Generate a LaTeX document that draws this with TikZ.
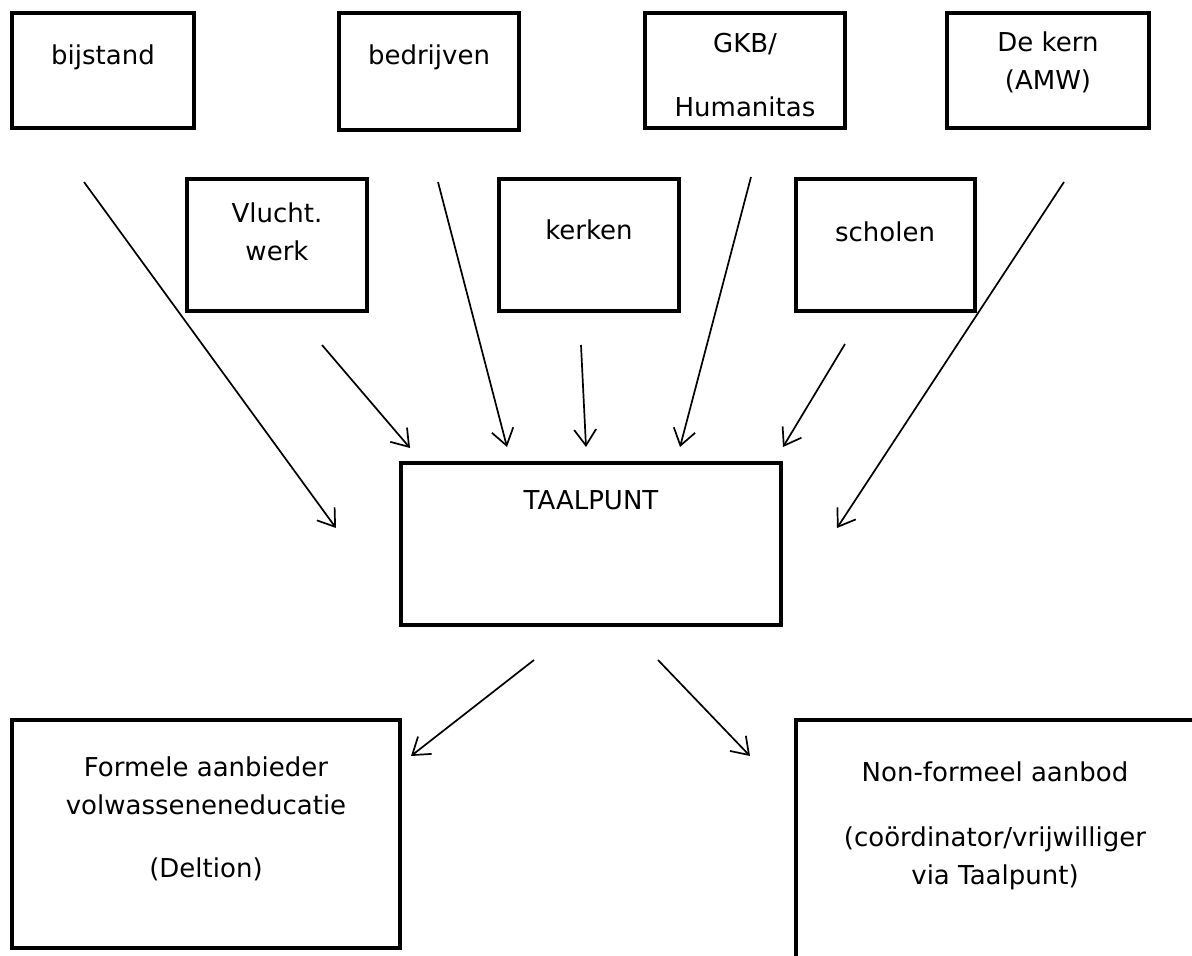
\documentclass[tikz,border=0pt]{standalone}
\usepackage{fontspec}
\setmainfont{DejaVu Sans}
\usetikzlibrary{arrows.meta}
\begin{document}
\begin{tikzpicture}[x=1pt,y=-1pt,
  box/.style={draw=black,line width=4pt,rectangle,inner sep=0pt},
  lbl/.style={inner sep=0pt,align=center,font=\fontsize{26}{38}\selectfont},
  arr/.style={line width=1.7pt,-{Straight Barb[length=16pt,width=22pt,line width=1.7pt]}}]
\clip (0,0) rectangle (1192,956);
\fill[white] (0,0) rectangle (1192,956);
% boxes
\node[box,minimum width=182,minimum height=115] (bijstand) at (103,70.5) {};
\node[box,minimum width=180,minimum height=117] (bedrijven) at (429,71.5) {};
\node[box,minimum width=200,minimum height=115] (gkb) at (745,70.5) {};
\node[box,minimum width=202,minimum height=115] (kern) at (1048,70.5) {};
\node[box,minimum width=180,minimum height=132] (vlucht) at (277,245) {};
\node[box,minimum width=180,minimum height=132] (kerken) at (589,245) {};
\node[box,minimum width=179,minimum height=132] (scholen) at (885.5,245) {};
\node[box,minimum width=380,minimum height=162] (taalpunt) at (591,544) {};
\node[box,minimum width=388,minimum height=228] (formeel) at (206,834) {};
\node[box,minimum width=464,minimum height=280] (nonformeel) at (1028,860) {};
% texts
\node[lbl] (tbijstand) at (103,57) {bijstand};
\node[lbl] (tbedrijven) at (429,57) {bedrijven};
\node[lbl] (tgkb) at (745,75) {GKB/\\[26pt]Humanitas};
\node[lbl] (tkern) at (1048,62) {De kern\\(AMW)};
\node[lbl] (tvlucht) at (277,232) {Vlucht.\\werk};
\node[lbl] (tkerken) at (589,230) {kerken};
\node[lbl] (tscholen) at (885,232) {scholen};
\node[lbl] (ttaalpunt) at (591,500) {TAALPUNT};
\node[lbl] (tformeel) at (206,819) {Formele aanbieder\\volwasseneneducatie\\[25pt](Deltion)};
\node[lbl] (tnonformeel) at (995,826) {Non-formeel aanbod\\[27pt](coördinator/vrijwilliger\\via Taalpunt)};
% arrow endpoints
\coordinate (a1s) at (84,182);  \coordinate (a1e) at (336,528);
\coordinate (a2s) at (322,345); \coordinate (a2e) at (410,448);
\coordinate (a3s) at (438,182); \coordinate (a3e) at (507,447);
\coordinate (a4s) at (581,345); \coordinate (a4e) at (586,447);
\coordinate (a5s) at (751,177); \coordinate (a5e) at (680,447);
\coordinate (a6s) at (845,344); \coordinate (a6e) at (783,447);
\coordinate (a7s) at (1064,182); \coordinate (a7e) at (837,528);
\coordinate (a8s) at (534,660); \coordinate (a8e) at (411,756);
\coordinate (a9s) at (658,660); \coordinate (a9e) at (750,756);
\foreach \i in {1,...,9} {\draw[arr] (a\i s) -- (a\i e);}
\end{tikzpicture}
\end{document}
